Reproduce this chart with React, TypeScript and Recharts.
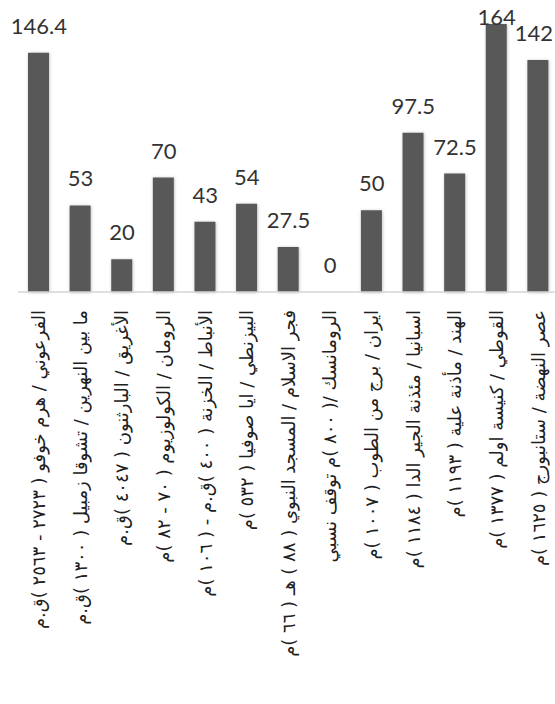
import React from 'react';
import { ComposedChart, Bar, Line, XAxis, YAxis, LabelList } from 'recharts';

// Architectural eras with a landmark building and its date
const eras: string[] = [
  'الفرعوني / هرم خوفو ( ٢٧٢٣ - ٢٥٦٣ )ق.م',
  'ما بين النهرين / تشوقا زمبيل ( ١٣٠٠ )ق.م',
  'الأغريق / البارثنون ( ٤٠٤٧ )ق.م',
  'الرومان / الكولوزيوم ( ٧٠ - ٨٢ )م',
  'الأنباط / الخزنة ( ٤٠٠ )ق.م - ( ١٠٦ )م',
  'البيزنطي / ايا صوفيا ( ٥٣٢ )م',
  'فجر الاسلام / المسجد النبوي ( ٨٨ ) هـ ( ٦٦ )م',
  'الرومانسك /( ٨٠٠ )م توقف نسبي',
  'ايران / برج من الطوب ( ١٠٠٧ )م',
  'اسبانيا / مئذنة الجير الدا ( ١١٨٤ )م',
  'الهند / مأذنة علية ( ١١٩٣ )م',
  'القوطي / كنيسة اولم ( ١٣٧٧ )م',
  'عصر النهضة / ستانبورج ( ١٦٢٥ )م',
];

// Height of each landmark (m)
const heights: number[] = [146.4, 53, 20, 70, 43, 54, 27.5, 0, 50, 97.5, 72.5, 164, 142];

const data = eras.map((era, i) => ({ era, height: heights[i] }));

const VIEW_W = 555;
const CHART_W = 560;
const CHART_H = 704;
const PLOT_TOP = 24;
const AXIS_Y = 292;

function EraTick(props: any) {
  const { x, y, payload } = props;
  return (
    <g transform={`translate(${x},${y})`}>
      <text
        transform="rotate(-90)"
        x={-10}
        y={0}
        dy="0.35em"
        textAnchor="start"
        direction="rtl"
        fontFamily="'DejaVu Sans', sans-serif"
        fontSize={18}
        fill="#202020"
      >
        {payload.value}
      </text>
    </g>
  );
}

// Value above each bar; kept inside the visible area at the top and right edges
function ValueLabel(props: any) {
  const { x, y, value } = props;
  const cx = Number(x);
  const ty = Math.max(Number(y) - 19, PLOT_TOP + 1);
  const nearRight = cx + 18 > VIEW_W - 2;
  return (
    <text
      x={nearRight ? VIEW_W - 2 : cx}
      y={ty}
      textAnchor={nearRight ? 'end' : 'middle'}
      fontFamily="Lato, 'Open Sans', sans-serif"
      fontSize={22}
      fill="#333333"
    >
      {value}
    </text>
  );
}

export default function App() {
  return (
    <div
      style={{
        position: 'absolute',
        left: 0,
        top: 0,
        width: VIEW_W,
        height: CHART_H,
        overflow: 'hidden',
        background: '#ffffff',
      }}
    >
      <ComposedChart
        width={CHART_W}
        height={CHART_H}
        data={data}
        margin={{ top: PLOT_TOP, right: 1, bottom: 0, left: 18 }}
        barCategoryGap={0}
      >
        <defs>
          <filter id="barHalo" x="-30%" y="-10%" width="160%" height="120%">
            <feDropShadow dx="0.5" dy="0.5" stdDeviation="1.4" floodColor="#9a9a9a" floodOpacity="0.7" />
          </filter>
        </defs>
        <YAxis hide domain={[0, 164]} />
        <XAxis
          dataKey="era"
          interval={0}
          height={CHART_H - AXIS_Y}
          tickLine={false}
          axisLine={{ stroke: '#d4d4d4', strokeWidth: 1.5 }}
          tick={<EraTick />}
          tickMargin={2}
        />
        <Bar
          dataKey="height"
          fill="#595959"
          barSize={21}
          filter="url(#barHalo)"
          isAnimationActive={false}
        />
        <Line
          dataKey="height"
          stroke="none"
          dot={false}
          activeDot={false}
          isAnimationActive={false}
        >
          <LabelList dataKey="height" content={<ValueLabel />} />
        </Line>
      </ComposedChart>
    </div>
  );
}
